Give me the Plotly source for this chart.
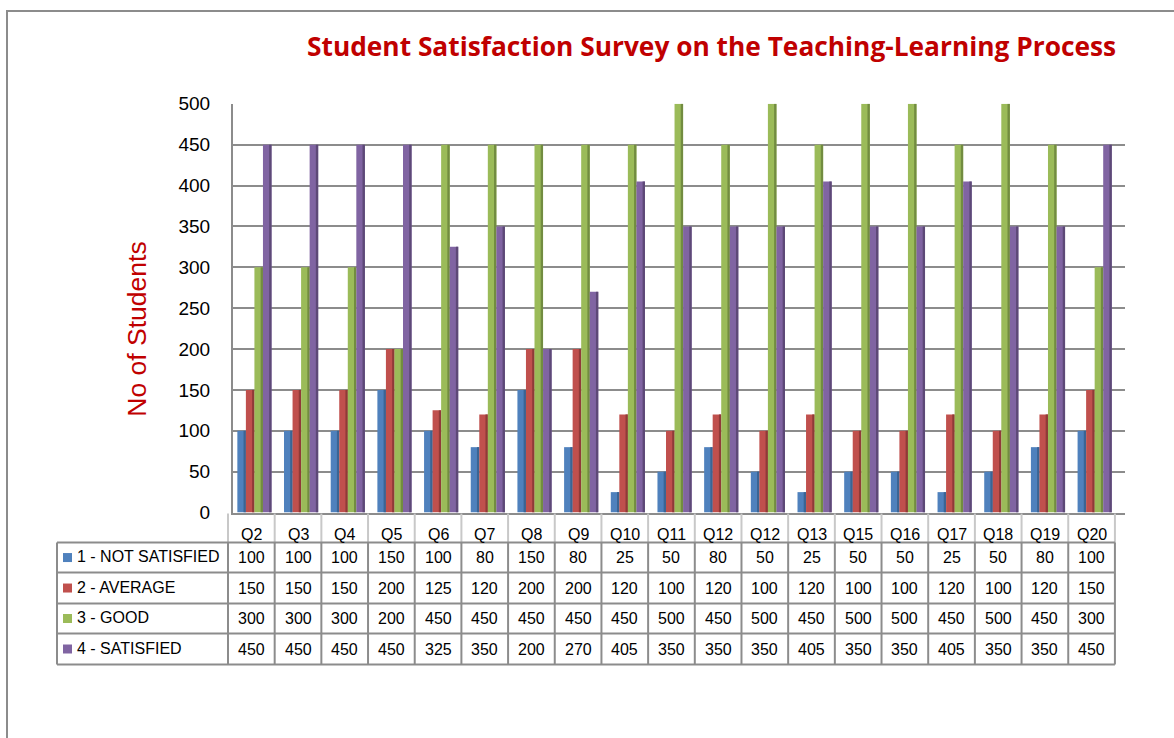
import plotly.graph_objects as go

categories = ["Q2", "Q3", "Q4", "Q5", "Q6", "Q7", "Q8", "Q9", "Q10", "Q11",
              "Q12", "Q12", "Q13", "Q15", "Q16", "Q17", "Q18", "Q19", "Q20"]
not_satisfied = [100, 100, 100, 150, 100, 80, 150, 80, 25, 50, 80, 50, 25, 50, 50, 25, 50, 80, 100]
average = [150, 150, 150, 200, 125, 120, 200, 200, 120, 100, 120, 100, 120, 100, 100, 120, 100, 120, 150]
good = [300, 300, 300, 200, 450, 450, 450, 450, 450, 500, 450, 500, 450, 500, 500, 450, 500, 450, 300]
satisfied = [450, 450, 450, 450, 325, 350, 200, 270, 405, 350, 350, 350, 405, 350, 350, 405, 350, 350, 450]
series_names = ["1 - NOT SATISFIED", "2 - AVERAGE", "3 - GOOD", "4 - SATISFIED"]
series_values = [not_satisfied, average, good, satisfied]
series_colors = ["#4F81BD", "#C0504D", "#9BBB59", "#8064A2"]
side_colors = ["#3B6493", "#8F3A38", "#728C40", "#5D4977"]
y_ticks = [0, 50, 100, 150, 200, 250, 300, 350, 400, 450, 500]

W, H = 1174, 738
# vertical pixel mapping compensation (observed = 9.2 + 0.972 * layout px)
def py(t):
    p = max((t - 9.2) / 0.972, 0.0)
    return 1 - p / H
def px(p):
    return p / W

n = len(categories)
COL0, COLW = 228.0, 46.68          # table column geometry in pixels
def col_x(i):                       # paper x of column edge i (0..n)
    return px(COL0 + COLW * i)

DOM_L, DOM_R = 233.0, 1125.0
r0 = -0.5 + (DOM_L - COL0) / COLW
r1 = r0 + (DOM_R - DOM_L) / COLW

idx = list(range(n))
fig = go.Figure()
BAR_START, BAR_W, SIDE_W = -0.30, 0.183, 0.05
for k, (name, vals, col, sc) in enumerate(zip(series_names, series_values, series_colors, side_colors)):
    off = BAR_START + k * BAR_W
    fig.add_trace(go.Bar(x=idx, y=vals, name=name, offset=off, width=BAR_W,
                         marker=dict(color=col, line=dict(width=0))))
    fig.add_trace(go.Bar(x=idx, y=vals, name=name + " side", offset=off + BAR_W - SIDE_W, width=SIDE_W,
                         marker=dict(color=sc, line=dict(width=0)), hoverinfo="skip"))

FONT = "Liberation Sans, Arial, sans-serif"
grid_col = "#8C8C8C"

fig.update_layout(
    width=W, height=H, autosize=False,
    margin=dict(l=0, r=0, t=0, b=0),
    paper_bgcolor="white", plot_bgcolor="white",
    barmode="overlay",
    showlegend=False,
    font=dict(family=FONT, size=16, color="black"),
    xaxis=dict(domain=[px(DOM_L), px(DOM_R)], range=[r0, r1],
               showticklabels=False, showgrid=False, zeroline=False,
               showline=True, linecolor=grid_col, linewidth=2, fixedrange=True),
    yaxis=dict(domain=[py(512), py(103)], range=[0, 500], tickvals=y_ticks,
               tickfont=dict(family=FONT, size=19, color="black"),
               showgrid=True, gridcolor=grid_col, gridwidth=2,
               showline=True, linecolor=grid_col, linewidth=2,
               zeroline=False, ticks="", ticklabelstandoff=17, fixedrange=True),
)

shapes = []
annotations = []

annotations.append(dict(text="<b>Student Satisfaction Survey on the Teaching-Learning Process</b>",
                        x=px(711), y=py(45), xref="paper", yref="paper", showarrow=False,
                        xanchor="center", yanchor="middle",
                        font=dict(family="Open Sans, sans-serif", size=26.3, color="#C00000")))
annotations.append(dict(text="No of Students", x=px(137), y=py(329), xref="paper", yref="paper",
                        showarrow=False, textangle=-90, xanchor="center", yanchor="middle",
                        font=dict(family=FONT, size=26.5, color="#C00000")))

# outer frame
shapes.append(dict(type="rect", xref="paper", yref="paper", x0=px(7), x1=px(1190), y0=-0.05, y1=1 - 1.0 / H,
                   line=dict(color="#8C8C8C", width=2), fillcolor="rgba(0,0,0,0)"))

# Data table
hdr_top, hdr_bot = 513, 543
row_lines = [542, 572, 603, 633, 664]
tbl_left = 57
light = "#C8C8C8"
dark = "#8C8C8C"
for i in range(n + 1):
    shapes.append(dict(type="line", xref="paper", yref="paper", x0=col_x(i), x1=col_x(i),
                       y0=py(hdr_top), y1=py(hdr_bot), line=dict(color=light, width=2)))
for i, c in enumerate(categories):
    annotations.append(dict(text=c, x=(col_x(i) + col_x(i + 1)) / 2, y=py(534), xref="paper", yref="paper",
                            showarrow=False, xanchor="center", yanchor="middle",
                            font=dict(family=FONT, size=16)))
for r in row_lines:
    shapes.append(dict(type="line", xref="paper", yref="paper", x0=px(tbl_left), x1=col_x(n),
                       y0=py(r), y1=py(r), line=dict(color=dark, width=2)))
shapes.append(dict(type="line", xref="paper", yref="paper", x0=px(tbl_left), x1=px(tbl_left),
                   y0=py(row_lines[0]), y1=py(row_lines[-1]), line=dict(color=dark, width=2)))
for i in range(n + 1):
    shapes.append(dict(type="line", xref="paper", yref="paper", x0=col_x(i), x1=col_x(i),
                       y0=py(row_lines[0]), y1=py(row_lines[-1]), line=dict(color=dark, width=2)))
for k, (name, vals, col) in enumerate(zip(series_names, series_values, series_colors)):
    yc = (row_lines[k] + row_lines[k + 1]) / 2
    shapes.append(dict(type="rect", xref="paper", yref="paper", x0=px(63), x1=px(72),
                       y0=py(yc + 4.5), y1=py(yc - 4.5), fillcolor=col, line=dict(width=0)))
    annotations.append(dict(text=name, x=px(75), y=py(yc - 1), xref="paper", yref="paper",
                            showarrow=False, xanchor="left", yanchor="middle",
                            font=dict(family=FONT, size=16)))
    for i, v in enumerate(vals):
        annotations.append(dict(text=str(v), x=(col_x(i) + col_x(i + 1)) / 2, y=py(yc), xref="paper",
                                yref="paper", showarrow=False, xanchor="center", yanchor="middle",
                                font=dict(family=FONT, size=16)))

fig.update_layout(shapes=shapes, annotations=annotations)
fig.write_html("out.html", config={"displayModeBar": False},
               post_script="document.body.style.margin='0';document.body.style.overflow='hidden';")
